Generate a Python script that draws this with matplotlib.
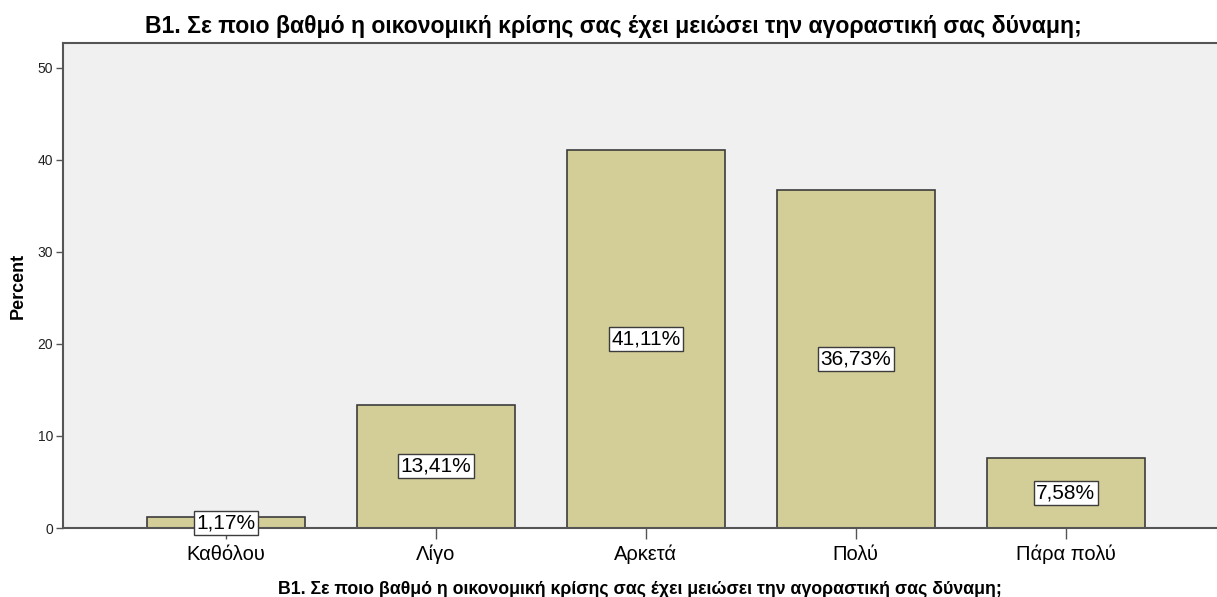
import matplotlib
matplotlib.use("Agg")
import matplotlib.pyplot as plt
import numpy as np

plt.rcParams['font.family'] = ['Liberation Sans', 'DejaVu Sans']

# data
categories = ['Καθόλου', 'Λίγο', 'Αρκετά', 'Πολύ', 'Πάρα πολύ']
percent = [1.17, 13.41, 41.11, 36.73, 7.58]
labels = ['1,17%', '13,41%', '41,11%', '36,73%', '7,58%']
title = 'B1. Σε ποιο βαθμό η οικονομική κρίσης σας έχει μειώσει την αγοραστική σας δύναμη;'

fig = plt.figure(figsize=(12.17, 5.97), dpi=100)
ax = fig.add_axes([63 / 1217, 1 - 528 / 597, (1217 - 63) / 1217, (528 - 43) / 597])
ax.set_facecolor('#F0F0F0')

x = np.arange(len(categories))
ax.bar(x, percent, width=0.752, color='#D3CE97', edgecolor='#3C3C3C', linewidth=1.2, zorder=2)

# value labels in the middle of each bar
for xi, v, lab in zip(x, percent, labels):
    ax.text(xi, v / 2, lab, ha='center', va='center', fontsize=15, zorder=3,
            bbox=dict(boxstyle='square,pad=0.12', facecolor='white', edgecolor='#3C3C3C', linewidth=1))

ax.set_xlim(-0.776, 4.72)
ax.set_ylim(0, 52.7)
ax.set_yticks([0, 10, 20, 30, 40, 50])
ax.set_xticks(x)
ax.set_xticklabels(categories, fontsize=14.5)
ax.tick_params(axis='y', labelsize=10, labelcolor='#222222', length=5, width=1, color='#555555', pad=2)
ax.tick_params(axis='x', length=8, width=1, color='#555555', pad=4)

for s in ['left', 'bottom', 'top']:
    ax.spines[s].set_color('#555555')
    ax.spines[s].set_linewidth(1.5)
ax.spines['right'].set_visible(False)

ax.set_ylabel('Percent', fontsize=13, fontweight='bold', labelpad=8)
ax.set_xlabel(title, fontsize=12.8, fontweight='bold', labelpad=12)
fig.text(0.504, 1 - 26 / 597, title, ha='center', va='center', fontsize=16.6, fontweight='bold')

fig.savefig('out.png', dpi=100, facecolor='white')
